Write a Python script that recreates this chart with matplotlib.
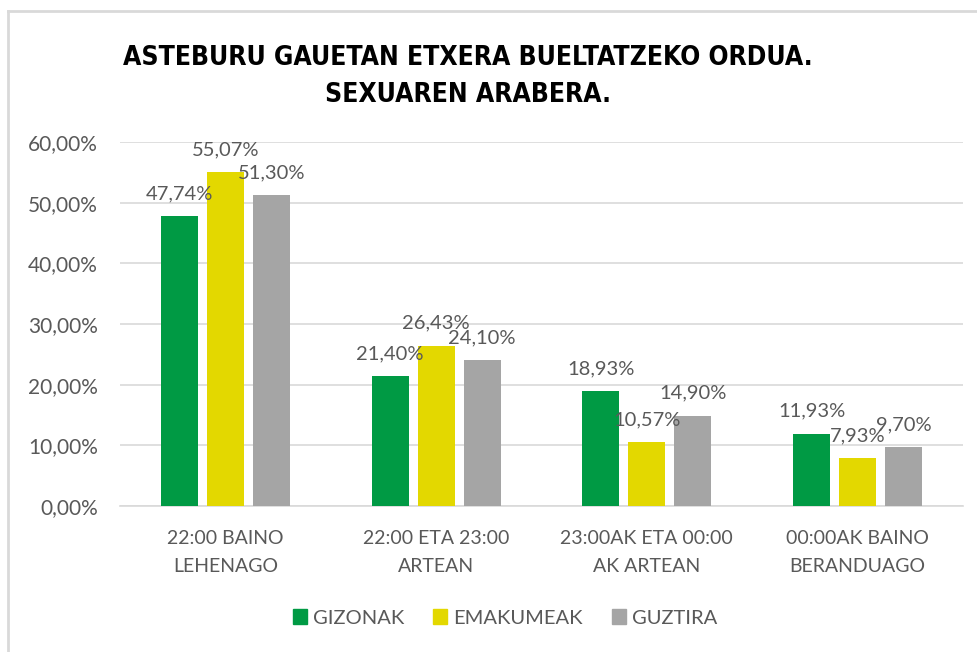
import matplotlib.pyplot as plt
import numpy as np
from matplotlib.lines import Line2D

# ==================================================
# DATA
# ==================================================
categories = ["22:00 BAINO\nLEHENAGO", "22:00 ETA 23:00\nARTEAN",
              "23:00AK ETA 00:00\nAK ARTEAN", "00:00AK BAINO\nBERANDUAGO"]
series_names = ["GIZONAK", "EMAKUMEAK", "GUZTIRA"]
gizonak = [47.74, 21.40, 18.93, 11.93]
emakumeak = [55.07, 26.43, 10.57, 7.93]
guztira = [51.30, 24.10, 14.90, 9.70]
yticks = [0, 10, 20, 30, 40, 50, 60]

colors = ["#009A44", "#E3D800", "#A5A5A5"]
text_gray = "#595959"
grid_gray = "#D9D9D9"

plt.rcParams['font.family'] = ['Lato', 'DejaVu Sans']


def pct(v):
    return f"{v:.2f}".replace(".", ",") + "%"


# ==================================================
# PLOT
# ==================================================
fig = plt.figure(figsize=(9.78, 6.52), dpi=100)
ax = fig.add_axes([120 / 978, 146 / 652, 843 / 978, 364 / 652])

x = np.arange(len(categories))
width = 0.175
step = 0.218

for i, (name, vals) in enumerate(zip(series_names, [gizonak, emakumeak, guztira])):
    pos = x + (i - 1) * step
    ax.bar(pos, vals, width, color=colors[i], label=name, zorder=3)
    for px, v in zip(pos, vals):
        ax.annotate(pct(v), (px, v), xytext=(0, 10), textcoords="offset points",
                    ha="center", va="bottom", fontsize=14.5, color=text_gray, zorder=4)

ax.set_xlim(-0.5, 3.5)
ax.set_ylim(0, 60)
ax.set_yticks(yticks)
ax.set_yticklabels([pct(t) for t in yticks], fontsize=15, color=text_gray)
ax.set_xticks(x)
ax.set_xticklabels(categories, fontsize=14, color=text_gray, linespacing=1.8)
ax.tick_params(axis="both", length=0)
ax.tick_params(axis="y", pad=16)
ax.tick_params(axis="x", pad=17)
ax.grid(axis="y", color=grid_gray, linewidth=1.2, zorder=0)
for s in ["top", "right", "left"]:
    ax.spines[s].set_visible(False)
ax.spines["bottom"].set_color(grid_gray)
ax.spines["bottom"].set_linewidth(1.2)

title_font = dict(ha="center", va="center", fontsize=19, fontweight="bold",
                  color="black", family=['DejaVu Sans'], fontstretch="condensed")
fig.text(468 / 978, 1 - 58 / 652, "ASTEBURU GAUETAN ETXERA BUELTATZEKO ORDUA.", **title_font)
fig.text(468 / 978, 1 - 95 / 652, "SEXUAREN ARABERA.", **title_font)

handles = [plt.Rectangle((0, 0), 1, 1, color=c) for c in colors]
fig.legend(handles, series_names, loc="center", bbox_to_anchor=(505 / 978, 34 / 652),
           ncol=3, frameon=False, fontsize=14.5, labelcolor=text_gray,
           handlelength=0.7, handleheight=0.7, handletextpad=0.3, columnspacing=1.45)

# chart frame (top and left edges visible)
fig.add_artist(Line2D([8 / 978, 8 / 978], [0, 1 - 11 / 652], color=grid_gray, linewidth=2))
fig.add_artist(Line2D([8 / 978, 1], [1 - 11 / 652, 1 - 11 / 652], color=grid_gray, linewidth=2))

fig.savefig("out.png", dpi=100)
